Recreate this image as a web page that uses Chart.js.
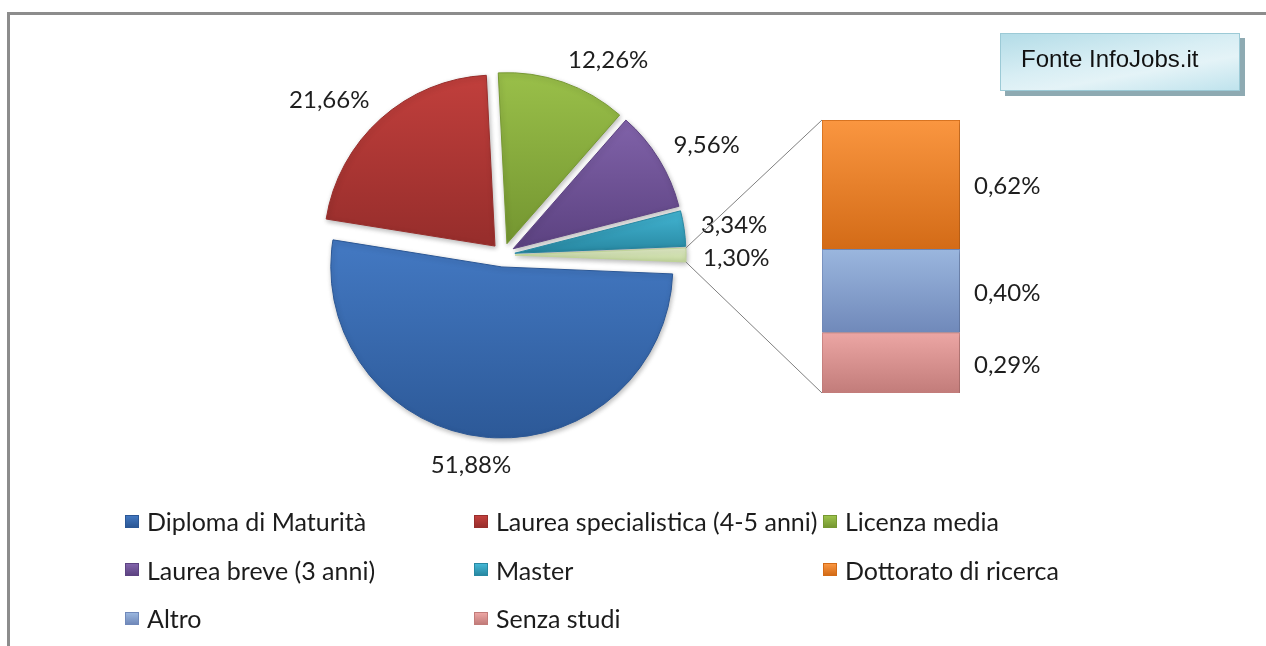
<!DOCTYPE html>
<html lang="it">
<head>
<meta charset="utf-8">
<title>Titolo di studio - Fonte InfoJobs.it</title>
<script src="https://cdn.jsdelivr.net/npm/chart.js@4.4.1/dist/chart.umd.min.js"></script>
<style>
  html, body { margin: 0; padding: 0; background: #fff; }
  #wrap { position: relative; width: 1266px; height: 646px; overflow: hidden; font-family: Lato, sans-serif; }
  #frame { position: absolute; left: 7px; top: 12px; width: 1300px; height: 700px;
           border-top: 3px solid #8c8c8c; border-left: 3px solid #8c8c8c; }
  canvas { position: absolute; left: 0; top: 0; }
  #fonte { position: absolute; left: 1000px; top: 33px; width: 240px; height: 58px;
           border: 1px solid #9ccad6; box-shadow: 5px 5px 0 #8eaab2;
           background: linear-gradient(170deg, #b3dce7 0%, #d8eef4 45%, #e4f3f7 65%, #bfe3ed 100%);
           font: 24px "Liberation Sans", Arial, sans-serif; color: #111;
           box-sizing: border-box; padding: 11px 0 0 20px; }
  #legend { position: absolute; left: 125px; top: 497px; display: grid;
            grid-template-columns: repeat(3, 349px); grid-auto-rows: 48.5px; }
  .item { display: flex; align-items: center; font-size: 25px; color: #1c1c1c; white-space: nowrap; }
  .mark { width: 14px; height: 13px; margin-right: 8px; box-sizing: border-box; }
</style>
</head>
<body>
<div id="wrap">
  <div id="frame"></div>
  <canvas id="pie" width="1266" height="646"></canvas>
  <canvas id="bar" width="1266" height="646"></canvas>
  <div id="fonte">Fonte InfoJobs.it</div>
  <div id="legend"></div>
</div>
<script>
// dati (percentuali)
const sliceLabels = ['Diploma di Maturità', 'Laurea specialistica (4-5 anni)', 'Licenza media', 'Laurea breve (3 anni)', 'Master', 'Altri'];
const sliceValues = [51.88, 21.66, 12.26, 9.56, 3.34, 1.30];
const barLabels = ['Dottorato di ricerca', 'Altro', 'Senza studi'];
const barValues = [0.62, 0.40, 0.29];

// colori [chiaro, scuro]
const sliceColors = [
  ['#4277c0', '#2b5795'],
  ['#c3403d', '#982e2c'],
  ['#9cc24b', '#769832'],
  ['#8264ab', '#5d4382'],
  ['#44b7d5', '#2888a2'],
  ['#e2edc9', '#bfd397']
];
const barColors = [
  ['#fa9640', '#d36b17'],
  ['#9ab6de', '#7089ba'],
  ['#eca6a4', '#c27c7a']
];

const explode = 12;
const pieRadius = 171;
const total = sliceValues.reduce((a, b) => a + b, 0);
const barTotal = barValues.reduce((a, b) => a + b, 0);
// la fetta "altri" va centrata a ore 3
const rotation = 90 + sliceValues[sliceValues.length - 1] / total * 180;

const pct = v => v.toFixed(2).replace('.', ',') + '%';

// legenda
const legendItems = sliceLabels.slice(0, 5).map((l, i) => [l, sliceColors[i]])
  .concat(barLabels.map((l, i) => [l, barColors[i]]));
document.getElementById('legend').innerHTML = legendItems.map(([l, c]) =>
  '<div class="item"><span class="mark" style="background:linear-gradient(' + c[0] + ',' + c[1] +
  ');border:1px solid ' + c[1] + '"></span>' + l + '</div>').join('');

// gradiente verticale per ogni fetta, calcolato dagli angoli
function sliceFill(context) {
  const chart = context.chart;
  const area = chart.chartArea;
  const i = context.dataIndex;
  const c = sliceColors[i];
  if (!area) return c[0];
  const cy = (area.top + area.bottom) / 2;
  let start = (rotation - 90) * Math.PI / 180;
  for (let k = 0; k < i; k++) start += sliceValues[k] / total * Math.PI * 2;
  const end = start + sliceValues[i] / total * Math.PI * 2;
  const mid = (start + end) / 2;
  const dy = Math.sin(mid) * explode;
  let top = cy, bottom = cy;
  for (let s = 0; s <= 24; s++) {
    const a = start + (end - start) * s / 24;
    const y = cy + Math.sin(a) * pieRadius;
    top = Math.min(top, y); bottom = Math.max(bottom, y);
  }
  const g = chart.ctx.createLinearGradient(0, top + dy, 0, bottom + dy + 1);
  g.addColorStop(0, c[0]);
  g.addColorStop(1, c[1]);
  return g;
}

const explodePlugin = {
  id: 'explode',
  beforeDatasetDraw(chart, args) {
    const ctx = chart.ctx;
    ctx.save();
    ctx.shadowColor = 'rgba(0,0,0,0.28)';
    ctx.shadowBlur = 5;
    ctx.shadowOffsetX = 1;
    ctx.shadowOffsetY = 2;
    args.meta.data.forEach(arc => {
      const mid = (arc.startAngle + arc.endAngle) / 2;
      ctx.save();
      ctx.translate(Math.cos(mid) * explode, Math.sin(mid) * explode);
      arc.draw(ctx);
      ctx.restore();
    });
    ctx.restore();
    return false;
  }
};

const pieLabelPlugin = {
  id: 'pieLabels',
  afterDatasetsDraw(chart) {
    const ctx = chart.ctx;
    ctx.save();
    ctx.font = '24px Lato';
    ctx.fillStyle = '#1e1e1e';
    ctx.textAlign = 'center';
    ctx.textBaseline = 'middle';
    chart.getDatasetMeta(0).data.forEach((arc, i) => {
      const mid = (arc.startAngle + arc.endAngle) / 2;
      const r = arc.outerRadius + explode + 17;
      const ax = arc.x + Math.cos(mid) * r;
      const ay = arc.y + Math.sin(mid) * r;
      const txt = pct(sliceValues[i]);
      const w = ctx.measureText(txt).width, h = 17;
      const kx = Math.max(-1, Math.min(1, Math.cos(mid) * 3));
      const ky = Math.max(-1, Math.min(1, Math.sin(mid) * 3));
      ctx.fillText(txt, ax + kx * w / 2, ay + ky * h / 2 + 3);
    });
    ctx.restore();
  }
};

const pieChart = new Chart(document.getElementById('pie'), {
  type: 'pie',
  data: {
    labels: sliceLabels,
    datasets: [{
      data: sliceValues,
      backgroundColor: sliceFill,
      borderColor: sliceColors.map(c => c[1]),
      borderWidth: 1,
      radius: pieRadius,
      rotation: rotation
    }]
  },
  options: {
    responsive: false,
    animation: false,
    events: [],
    layout: { padding: { left: 303, right: 563, top: 55, bottom: 191 } },
    plugins: { legend: { display: false }, tooltip: { enabled: false } }
  },
  plugins: [explodePlugin, pieLabelPlugin]
});

// barra: ordine di impilamento dal basso verso l'alto
const stackOrder = [2, 1, 0];

function barFill(context) {
  const chart = context.chart;
  const y = chart.scales.y;
  const idx = stackOrder[context.datasetIndex];
  const c = barColors[idx];
  if (!y || !chart.chartArea) return c[0];
  let base = 0;
  for (let k = 0; k < context.datasetIndex; k++) base += barValues[stackOrder[k]];
  const top = y.getPixelForValue(base + barValues[idx]);
  const bottom = y.getPixelForValue(base);
  const g = chart.ctx.createLinearGradient(0, top, 0, bottom);
  g.addColorStop(0, c[0]);
  g.addColorStop(1, c[1]);
  return g;
}

const connectorPlugin = {
  id: 'connectors',
  beforeDatasetsDraw(chart) {
    const ctx = chart.ctx;
    const arcs = pieChart.getDatasetMeta(0).data;
    const other = arcs[arcs.length - 1];
    const mid = (other.startAngle + other.endAngle) / 2;
    const ox = other.x + Math.cos(mid) * explode;
    const oy = other.y + Math.sin(mid) * explode;
    const R = other.outerRadius;
    const topBar = chart.getDatasetMeta(stackOrder.length - 1).data[0];
    const bottomBar = chart.getDatasetMeta(0).data[0];
    const left = topBar.x - topBar.width / 2;
    ctx.save();
    ctx.strokeStyle = '#7f7f7f';
    ctx.lineWidth = 1;
    ctx.beginPath();
    ctx.moveTo(ox + Math.cos(other.startAngle) * R, oy + Math.sin(other.startAngle) * R);
    ctx.lineTo(left, topBar.y);
    ctx.moveTo(ox + Math.cos(other.endAngle) * R, oy + Math.sin(other.endAngle) * R);
    ctx.lineTo(left, bottomBar.base);
    ctx.stroke();
    ctx.restore();
    ctx.save();
    ctx.shadowColor = 'rgba(0,0,0,0.28)';
    ctx.shadowBlur = 4;
    ctx.shadowOffsetX = 2;
    ctx.shadowOffsetY = 2;
  },
  afterDatasetsDraw(chart) {
    const ctx = chart.ctx;
    ctx.restore();
    ctx.save();
    ctx.font = '24px Lato';
    ctx.fillStyle = '#1e1e1e';
    ctx.textAlign = 'left';
    ctx.textBaseline = 'middle';
    stackOrder.forEach((idx, j) => {
      const el = chart.getDatasetMeta(j).data[0];
      ctx.fillText(pct(barValues[idx]), el.x + el.width / 2 + 14, (el.y + el.base) / 2 + 2);
    });
    ctx.restore();
  }
};

new Chart(document.getElementById('bar'), {
  type: 'bar',
  data: {
    labels: [''],
    datasets: stackOrder.map(idx => ({
      label: barLabels[idx],
      data: [barValues[idx]],
      backgroundColor: barFill,
      borderColor: barColors[idx][1],
      borderWidth: 1,
      barPercentage: 1,
      categoryPercentage: 1
    }))
  },
  options: {
    responsive: false,
    animation: false,
    events: [],
    layout: { padding: { left: 822, right: 306, top: 120, bottom: 253 } },
    scales: {
      x: { display: false, stacked: true },
      y: { display: false, stacked: true, min: 0, max: barTotal }
    },
    plugins: { legend: { display: false }, tooltip: { enabled: false } }
  },
  plugins: [connectorPlugin]
});
</script>
</body>
</html>
